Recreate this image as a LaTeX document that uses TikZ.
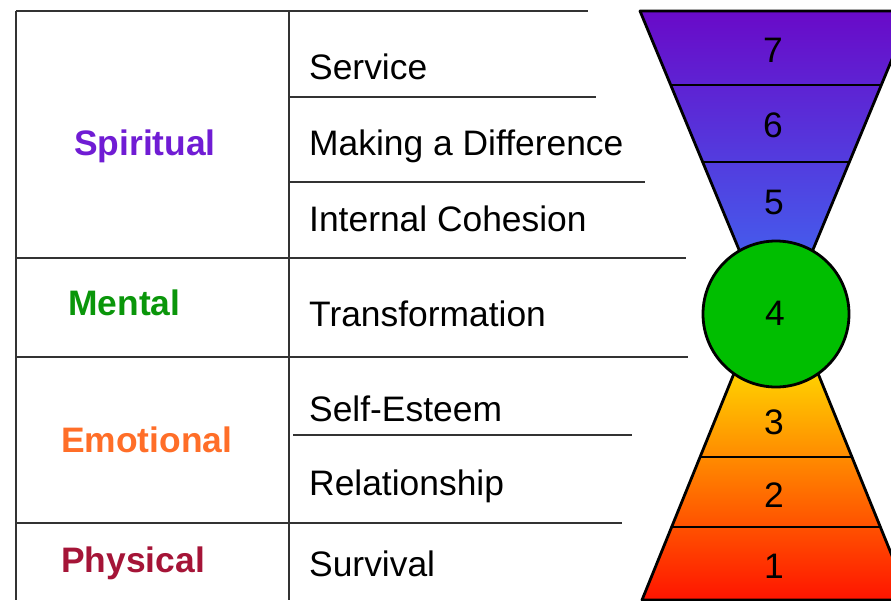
\documentclass[tikz,border=0pt]{standalone}
\usepackage{fontspec}
\setmainfont{Liberation Sans}
\begin{document}
\begin{tikzpicture}[x=1pt,y=-1pt,
  tline/.style={draw=black!80,line width=1.3pt},
  item/.style={anchor=base west,inner sep=0pt,font=\fontsize{35.4}{42}\selectfont},
  cat/.style={anchor=base west,inner sep=0pt,font=\fontsize{35.4}{42}\selectfont\bfseries},
  num/.style={inner sep=0pt,font=\fontsize{35.4}{42}\selectfont},
  hg/.style={draw=black,line width=2.8pt,line join=round},
  hgdiv/.style={draw=black,line width=2.4pt}]
\definecolor{cspirit}{RGB}{112,28,212}
\definecolor{cmental}{RGB}{10,150,10}
\definecolor{cemo}{RGB}{255,110,40}
\definecolor{cphys}{RGB}{165,20,55}
\definecolor{ctopA}{RGB}{105,10,200}
\definecolor{ctopB}{RGB}{65,100,240}
\definecolor{cbotA}{RGB}{255,228,0}
\definecolor{cbotB}{RGB}{255,140,0}
\definecolor{cbotC}{RGB}{255,20,0}
\definecolor{cgreen}{RGB}{0,190,0}
\useasboundingbox (0,0) rectangle (891,600);
\clip (0,0) rectangle (891,600);
\fill[white] (0,0) rectangle (891,600);
% table
\draw[tline] (16,11) -- (588,11);
\draw[tline] (16,11) -- (16,600);
\draw[tline] (289,11) -- (289,600);
\draw[tline] (289,97) -- (596,97);
\draw[tline] (289,182) -- (645,182);
\draw[tline] (16,258) -- (686,258);
\draw[tline] (16,357) -- (688,357);
\draw[tline] (293,435) -- (632,435);
\draw[tline] (16,523) -- (622,523);
% category labels
\node[cat,text=cspirit] (spiritual) at (74,155) {Spiritual};
\node[cat,text=cmental] (mental) at (68,315) {Mental};
\node[cat,text=cemo] (emotional) at (61,452) {Emotional};
\node[cat,text=cphys] (physical) at (61,572) {Physical};
% items
\node[item] (service) at (309,79) {Service};
\node[item] (making) at (309,155) {Making a Difference};
\node[item] (internal) at (309,231) {Internal Cohesion};
\node[item] (transf) at (309,326) {Transformation};
\node[item] (selfest) at (309,421) {Self-Esteem};
\node[item] (relat) at (309,495) {Relationship};
\node[item] (surv) at (309,576) {Survival};
% top funnel
\coordinate (t1) at (640,11);
\coordinate (t2) at (912,11);
\coordinate (t3) at (800.4,280);
\coordinate (t4) at (751.6,280);
\shade[top color=ctopA,bottom color=ctopB] (t1) -- (t2) -- (t3) -- (t4) -- cycle;
\draw[hgdiv] (670.7,85) -- (881.3,85);
\draw[hgdiv] (702.7,162) -- (849.3,162);
\draw[hg] (t1) -- (t2) -- (t3) -- (t4) -- cycle;
% bottom funnel
\coordinate (b1) at (743.5,350);
\coordinate (b2) at (808.5,350);
\coordinate (b3) at (910,600);
\coordinate (b4) at (642,600);
\shade[top color=cbotA,middle color=cbotB,bottom color=cbotC] (b1) -- (b2) -- (b3) -- (b4) -- cycle;
\draw[hgdiv] (700,457) -- (852,457);
\draw[hgdiv] (671.6,527) -- (880.4,527);
\draw[hg] (b1) -- (b2) -- (b3) -- (b4) -- cycle;
% circle
\node[circle,fill=cgreen,draw=black,line width=2.8pt,minimum size=146pt,inner sep=0pt] (c4) at (776,314) {};
% numbers
\node[num] (n7) at (773,50) {7};
\node[num] (n6) at (773,125) {6};
\node[num] (n5) at (774,202) {5};
\node[num] (n4) at (775,313) {4};
\node[num] (n3) at (774,422) {3};
\node[num] (n2) at (774,495) {2};
\node[num] (n1) at (774,566) {1};
\end{tikzpicture}
\end{document}
